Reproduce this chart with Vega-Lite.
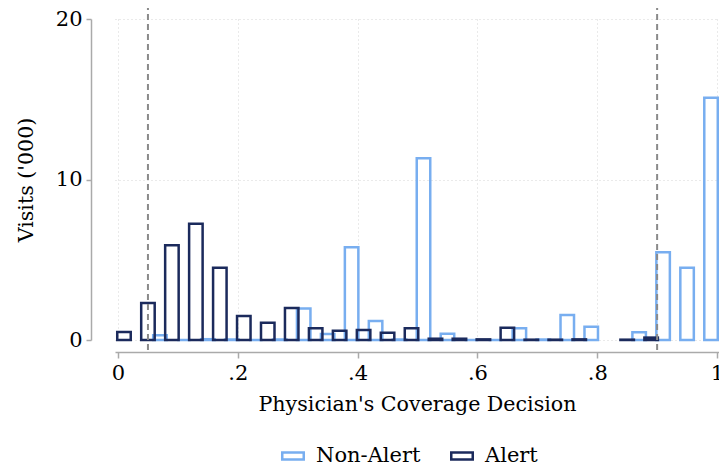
{
  "$schema": "https://vega.github.io/schema/vega-lite/v6.json",
  "width": 604,
  "height": 321,
  "autosize": {"type": "none"},
  "padding": {"left": 115, "top": 19, "right": 0, "bottom": 127},
  "background": "white",
  "config": {
    "view": {"stroke": null},
    "font": "DejaVu Serif",
    "axis": {
      "labelFont": "DejaVu Serif",
      "titleFont": "DejaVu Serif",
      "labelFontSize": 21,
      "titleFontSize": 20.6,
      "titleFontWeight": "normal",
      "labelColor": "#000000",
      "titleColor": "#000000",
      "domainColor": "#aaaaaa",
      "domainWidth": 1.5,
      "tickColor": "#aaaaaa",
      "tickWidth": 1.5,
      "gridColor": "#d4d4d4",
      "gridDash": [1, 3],
      "gridWidth": 1
    },
    "legend": {
      "labelFont": "DejaVu Serif",
      "labelFontSize": 21,
      "labelColor": "#000000"
    }
  },
  "layer": [
    {
      "data": {
        "values": [
          {"coverage": 0.07, "visits": 0.3, "group": "Non-Alert"},
          {"coverage": 0.11, "visits": 0.0, "group": "Non-Alert"},
          {"coverage": 0.15, "visits": 0.05, "group": "Non-Alert"},
          {"coverage": 0.19, "visits": 0.03, "group": "Non-Alert"},
          {"coverage": 0.23, "visits": 0.0, "group": "Non-Alert"},
          {"coverage": 0.27, "visits": 0.03, "group": "Non-Alert"},
          {"coverage": 0.31, "visits": 1.97, "group": "Non-Alert"},
          {"coverage": 0.35, "visits": 0.38, "group": "Non-Alert"},
          {"coverage": 0.39, "visits": 5.78, "group": "Non-Alert"},
          {"coverage": 0.43, "visits": 1.18, "group": "Non-Alert"},
          {"coverage": 0.47, "visits": 0.03, "group": "Non-Alert"},
          {"coverage": 0.51, "visits": 11.32, "group": "Non-Alert"},
          {"coverage": 0.55, "visits": 0.39, "group": "Non-Alert"},
          {"coverage": 0.59, "visits": 0.0, "group": "Non-Alert"},
          {"coverage": 0.63, "visits": 0.0, "group": "Non-Alert"},
          {"coverage": 0.67, "visits": 0.73, "group": "Non-Alert"},
          {"coverage": 0.71, "visits": 0.03, "group": "Non-Alert"},
          {"coverage": 0.75, "visits": 1.56, "group": "Non-Alert"},
          {"coverage": 0.79, "visits": 0.83, "group": "Non-Alert"},
          {"coverage": 0.87, "visits": 0.48, "group": "Non-Alert"},
          {"coverage": 0.91, "visits": 5.46, "group": "Non-Alert"},
          {"coverage": 0.95, "visits": 4.5, "group": "Non-Alert"},
          {"coverage": 0.99, "visits": 15.1, "group": "Non-Alert"},
          {"coverage": 0.01, "visits": 0.5, "group": "Alert"},
          {"coverage": 0.05, "visits": 2.3, "group": "Alert"},
          {"coverage": 0.09, "visits": 5.9, "group": "Alert"},
          {"coverage": 0.13, "visits": 7.25, "group": "Alert"},
          {"coverage": 0.17, "visits": 4.5, "group": "Alert"},
          {"coverage": 0.21, "visits": 1.5, "group": "Alert"},
          {"coverage": 0.25, "visits": 1.07, "group": "Alert"},
          {"coverage": 0.29, "visits": 2.0, "group": "Alert"},
          {"coverage": 0.33, "visits": 0.73, "group": "Alert"},
          {"coverage": 0.37, "visits": 0.58, "group": "Alert"},
          {"coverage": 0.41, "visits": 0.62, "group": "Alert"},
          {"coverage": 0.45, "visits": 0.45, "group": "Alert"},
          {"coverage": 0.49, "visits": 0.73, "group": "Alert"},
          {"coverage": 0.53, "visits": 0.08, "group": "Alert"},
          {"coverage": 0.57, "visits": 0.08, "group": "Alert"},
          {"coverage": 0.61, "visits": 0.04, "group": "Alert"},
          {"coverage": 0.65, "visits": 0.77, "group": "Alert"},
          {"coverage": 0.69, "visits": 0.02, "group": "Alert"},
          {"coverage": 0.73, "visits": 0.02, "group": "Alert"},
          {"coverage": 0.77, "visits": 0.04, "group": "Alert"},
          {"coverage": 0.85, "visits": 0.02, "group": "Alert"},
          {"coverage": 0.89, "visits": 0.15, "group": "Alert"}
        ]
      },
      "mark": {"type": "bar", "orient": "vertical", "size": 13.5, "fill": "transparent", "strokeWidth": 2.5},
      "encoding": {
        "x": {
          "field": "coverage",
          "type": "quantitative",
          "scale": {"domain": [-0.005, 1.0033], "nice": false, "zero": false, "padding": 0},
          "axis": {
            "values": [0, 0.2, 0.4, 0.6, 0.8, 1],
            "labelExpr": "datum.value == 0 ? '0' : datum.value == 1 ? '1' : replace(format(datum.value, '.1f'), '0.', '.')",
            "offset": 12,
            "tickSize": 6,
            "labelPadding": 4,
            "title": "Physician's Coverage Decision",
            "titlePadding": 11,
            "grid": true,
            "labelFlush": false,
            "labelOverlap": false
          }
        },
        "y": {
          "field": "visits",
          "type": "quantitative",
          "stack": null,
          "scale": {"domain": [0, 20], "nice": false},
          "axis": {
            "values": [0, 10, 20],
            "offset": 24,
            "tickSize": 5,
            "labelPadding": 4,
            "title": "Visits ('000)",
            "titlePadding": 19,
            "grid": true,
            "labelFlush": false
          }
        },
        "stroke": {
          "field": "group",
          "type": "nominal",
          "scale": {"domain": ["Non-Alert", "Alert"], "range": ["#78aef0", "#1b2a5c"]},
          "legend": {
            "title": null,
            "orient": "none",
            "legendX": 166,
            "legendY": 425,
            "direction": "horizontal",
            "symbolType": "M-1,-0.33H1V0.33H-1Z",
            "symbolSize": 462,
            "symbolStrokeWidth": 2.5,
            "symbolFillColor": "white",
            "labelOffset": 11,
            "columnPadding": 25,
            "padding": 0
          }
        }
      }
    },
    {
      "data": {"values": [{"coverage": 0.05}, {"coverage": 0.9}]},
      "mark": {"type": "rule", "color": "#8a8a8a", "strokeDash": [6, 4], "strokeWidth": 2},
      "encoding": {
        "x": {"field": "coverage", "type": "quantitative"},
        "y": {"datum": -0.62, "type": "quantitative"},
        "y2": {"datum": 20.69}
      }
    }
  ]
}
